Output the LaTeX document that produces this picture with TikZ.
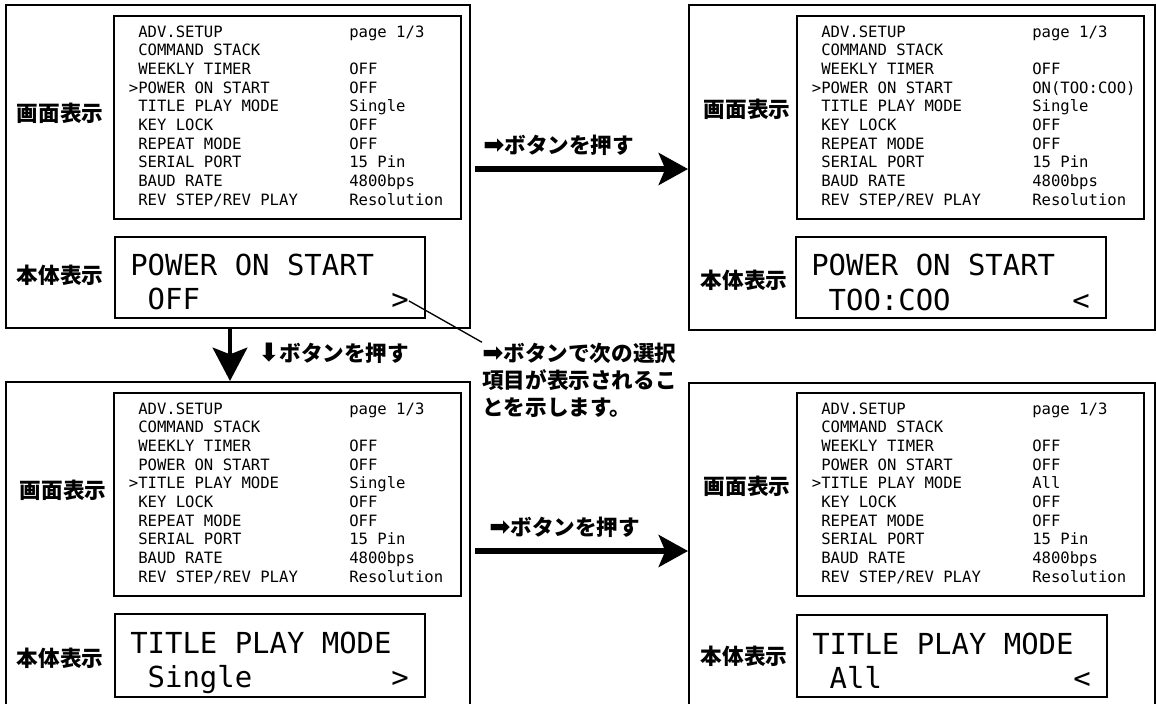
\documentclass[tikz,border=0pt]{standalone}
\usepackage{fontspec}
\setmonofont{DejaVu Sans Mono}
\newfontfamily\jpfont{Noto Sans CJK JP}
\newfontfamily\symfont{DejaVu Sans}
\usetikzlibrary{arrows.meta,positioning}

\newcommand{\rarr}{{\symfont\fontsize{19}{19}\selectfont ➡}}
\newcommand{\darr}{{\symfont\fontsize{19}{19}\selectfont ⬇}}

\tikzset{
  panel/.style={line width=1.1pt},
  screen/.style={line width=2pt},
  menutext/.style={inner sep=0pt, anchor=base west, font=\ttfamily\fontsize{11.7}{14}\selectfont},
  lcdtext/.style={inner sep=0pt, anchor=base west, font=\ttfamily\fontsize{21.7}{26}\selectfont},
  tag/.style={inner sep=0pt, font=\jpfont\bfseries\fontsize{16.2}{19}\selectfont},
  arrlabel/.style={inner sep=0pt, anchor=west, font=\jpfont\bfseries\fontsize{16.2}{19}\selectfont},
  note/.style={inner sep=0pt, anchor=base west, font=\jpfont\bfseries\fontsize{16.2}{19}\selectfont},
  bigarrow/.style={line width=3.8pt, -{Stealth[length=22pt,width=24pt,inset=5pt]}},
  downarrow/.style={line width=3pt, -{Stealth[length=25pt,width=26pt,inset=5pt]}},
}

% menu of the ADV.SETUP page: prefix, x, y, cursor row, power value, title value
\newcommand{\setupmenu}[6]{%
  \draw[screen] (#2,#3) rectangle ++(347,203);
  \foreach \item/\val [count=\i from 0] in {ADV.SETUP/page 1\slash 3,COMMAND STACK/,WEEKLY TIMER/OFF,POWER ON START/#5,TITLE PLAY MODE/#6,KEY LOCK/OFF,REPEAT MODE/OFF,SERIAL PORT/15 Pin,BAUD RATE/4800bps,REV STEP\slash REV PLAY/Resolution}{
    \node[menutext] (#1item\i) at (#2+14.6, #3+21+18.7*\i) {\ifnum\i=#4 >\else\phantom{>}\fi\item};
    \node[menutext] (#1val\i) at (#2+235, #3+21+18.7*\i) {\val};
  }%
}

\begin{document}
\begin{tikzpicture}[x=0.75pt,y=-0.75pt]
    \useasboundingbox (0,0) rectangle (1156,703);

    % Top left panel
    \draw[panel] (6,5) rectangle (470,328);
    \node[tag] (tlscr) at (60,113) {画面表示};
    \node[tag] (tlbody) at (60,275) {本体表示};
    \setupmenu{tl}{114}{16}{3}{OFF}{Single}
    \draw[screen] (115,237) rectangle (425,318);
    \node[lcdtext] (tlline1) at (130,275) {POWER ON START};
    \node[lcdtext] (tlline2) at (147.4,309) {OFF};
    \node[lcdtext] (tlmark) at (391,309) {>};

    % Top right panel
    \draw[panel] (689,5) rectangle (1155,330);
    \node[tag] (trscr) at (747,109) {画面表示};
    \node[tag] (trbody) at (744,280) {本体表示};
    \setupmenu{tr}{797}{16}{3}{ON(TOO:COO)}{Single}
    \draw[screen] (796,237) rectangle (1106,318);
    \node[lcdtext] (trline1) at (811,275) {POWER ON START};
    \node[lcdtext] (trline2) at (828.4,310) {TOO:COO};
    \node[lcdtext] (trmark) at (1072,310) {<};

    % Bottom left panel
    \draw[panel] (6,704) -- (6,382) -- (470,382) -- (470,704);
    \node[tag] (blscr) at (63,490) {画面表示};
    \node[tag] (blbody) at (60,658) {本体表示};
    \setupmenu{bl}{114}{393}{4}{OFF}{Single}
    \draw[screen] (115,614) rectangle (425,697);
    \node[lcdtext] (blline1) at (130,653) {TITLE PLAY MODE};
    \node[lcdtext] (blline2) at (147.4,687) {Single};
    \node[lcdtext] (blmark) at (391,687) {>};

    % Bottom right panel
    \draw[panel] (689,704) -- (689,383) -- (1155,383) -- (1155,704);
    \node[tag] (brscr) at (747,486) {画面表示};
    \node[tag] (brbody) at (744,656) {本体表示};
    \setupmenu{br}{797}{393}{4}{OFF}{All}
    \draw[screen] (797,615) rectangle (1107,697);
    \node[lcdtext] (brline1) at (812,654) {TITLE PLAY MODE};
    \node[lcdtext] (brline2) at (829.4,688) {All};
    \node[lcdtext] (brmark) at (1073,688) {<};

    % Arrows between panels
    \coordinate (toparrs) at (475,169); \coordinate (toparre) at (688,169);
    \draw[bigarrow] (toparrs) -- (toparre);
    \node[arrlabel] (toplabel) at (483,145) {\rarr ボタンを押す};
    \coordinate (botarrs) at (475,551); \coordinate (botarre) at (688,551);
    \draw[bigarrow] (botarrs) -- (botarre);
    \node[arrlabel] (botlabel) at (489,527) {\rarr ボタンを押す};
    \coordinate (downarrs) at (230,328); \coordinate (downarre) at (230,381);
    \draw[downarrow] (downarrs) -- (downarre);
    \node[arrlabel] (downlabel) at (258,353) {\darr ボタンを押す};

    % Callout
    \node[note] (note1) at (482,361) {\rarr ボタンで次の選択};
    \node[note] (note2) at (482,388) {項目が表示されるこ};
    \node[note] (note3) at (482,415) {とを示します。};
    \draw[line width=1pt] (tlmark.east) -- (note1.north west);
\end{tikzpicture}
\end{document}
